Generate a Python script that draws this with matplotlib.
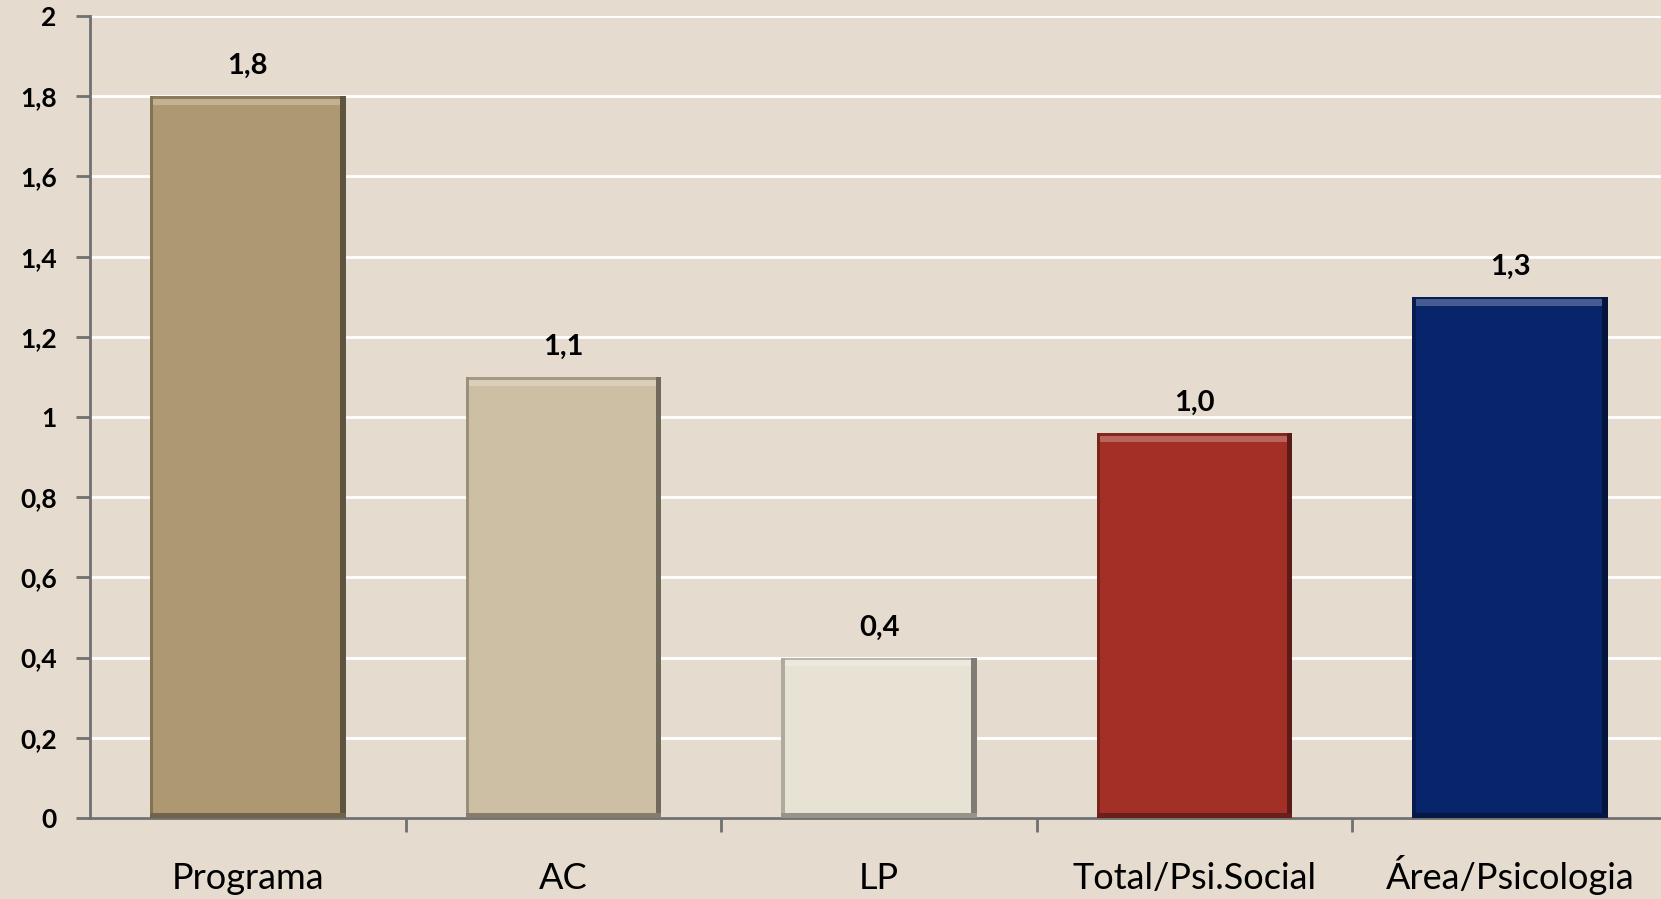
import matplotlib.pyplot as plt
import matplotlib.patches as mpatches
import numpy as np

categories = ["Programa", "AC", "LP", "Total/Psi.Social", "Área/Psicologia"]
values = [1.8, 1.1, 0.4, 0.96, 1.3]
colors = ["#AD9872", "#CDBFA4", "#E8E2D4", "#A33026", "#08246A"]
yticks = [0, 0.2, 0.4, 0.6, 0.8, 1, 1.2, 1.4, 1.6, 1.8, 2]

bg = "#E5DCCF"
plt.rcParams['font.family'] = ['Lato', 'DejaVu Sans']

fig = plt.figure(figsize=(16.61, 8.99), dpi=100)
fig.patch.set_facecolor(bg)
ax = fig.add_axes([0.0542, 0.0901, 0.950, 0.892])
ax.set_facecolor(bg)

x = np.arange(len(categories))
width = 0.62
bars = ax.bar(x, values, width=width, color=colors, zorder=3,
              edgecolor="none")


def shade(c, f):
    # mix colour c toward black (f<0) or white (f>0)
    rgb = np.array(plt.matplotlib.colors.to_rgb(c))
    if f < 0:
        return tuple(rgb * (1 + f))
    return tuple(rgb + (1 - rgb) * f)


# simple bevel look: light top strip, dark right edge, dark bottom strip
for b, c in zip(bars, colors):
    x0, w, h = b.get_x(), b.get_width(), b.get_height()
    dy = 0.022
    dx = 0.018
    ax.add_patch(mpatches.Rectangle((x0, h - dy), w, dy, color=shade(c, 0.25), zorder=4, lw=0))
    ax.add_patch(mpatches.Rectangle((x0, h - dy * 0.3), w, dy * 0.3, color=shade(c, -0.2), zorder=4, lw=0))
    ax.add_patch(mpatches.Rectangle((x0 + w - dx, 0), dx, h, color=shade(c, -0.45), zorder=4, lw=0))
    ax.add_patch(mpatches.Rectangle((x0, 0), dx * 0.6, h, color=shade(c, -0.25), zorder=4, lw=0))
    ax.add_patch(mpatches.Rectangle((x0, 0), w, dy * 0.6, color=shade(c, -0.35), zorder=4, lw=0))
    ax.text(b.get_x() + w / 2, h + 0.043, f"{h:.1f}".replace(".", ","),
            ha="center", va="bottom", fontsize=21, fontweight="bold", color="black")

ax.set_ylim(0, 2)
ax.set_xlim(-0.5, len(categories) - 0.5)
ax.set_yticks(yticks)
ax.set_yticklabels([f"{v:g}".replace(".", ",") for v in yticks],
                   fontsize=19, fontweight="bold")
ax.yaxis.grid(True, color="white", lw=2, zorder=1)
ax.set_axisbelow(True)

ax.set_xticks(x)
ax.set_xticklabels(categories, fontsize=26)
for lbl in ax.get_xticklabels():
    lbl.set_va("baseline")
ax.tick_params(axis="x", length=0, pad=51)
ax.set_xticks(np.arange(len(categories)) + 0.5, minor=True)
ax.tick_params(axis="x", which="minor", length=10, width=2, color="#707070")
ax.tick_params(axis="y", length=10, width=2, color="#707070", pad=14)

for s in ["top", "right"]:
    ax.spines[s].set_visible(False)
for s in ["left", "bottom"]:
    ax.spines[s].set_color("#707070")
    ax.spines[s].set_linewidth(2)

fig.savefig("out.png", dpi=100, facecolor=bg)
